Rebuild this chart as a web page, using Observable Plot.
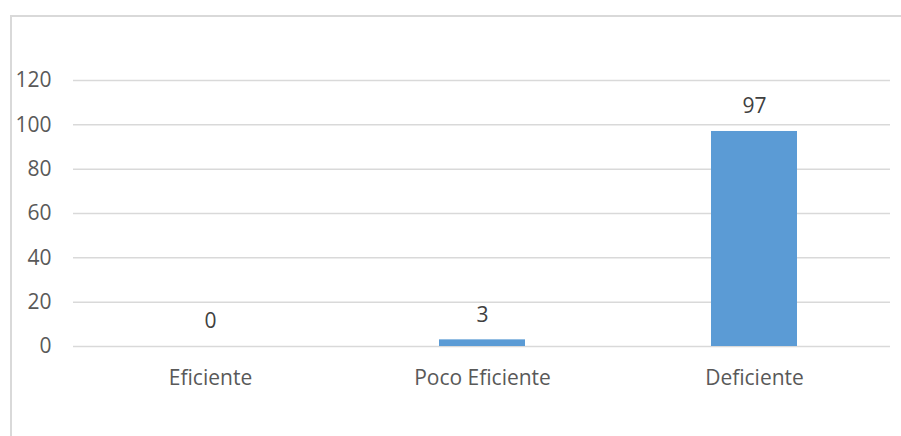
<!DOCTYPE html>
<html>
<head>
<meta charset="utf-8">
<script src="https://cdn.jsdelivr.net/npm/d3@7"></script>
<script src="https://cdn.jsdelivr.net/npm/@observablehq/plot@0.6"></script>
<style>
  html, body { margin: 0; padding: 0; background: #fff; }
  #wrap { position: relative; width: 901px; height: 436px; overflow: hidden; }
  #frame { position: absolute; left: 10px; top: 15px; width: 1000px; height: 1000px; border: 2px solid #D9D9D9; box-sizing: border-box; }
  #chart { position: absolute; left: 0; top: 0; }
</style>
</head>
<body>
<div id="wrap">
  <div id="frame"></div>
  <div id="chart"></div>
</div>
<script>
const categories = ["Eficiente", "Poco Eficiente", "Deficiente"];
const values = [0, 3, 97];
const yTicks = [0, 20, 40, 60, 80, 100, 120];

const data = categories.map((c, i) => ({category: c, value: values[i]}));

const chart = Plot.plot({
  width: 901,
  height: 436,
  marginLeft: 73,
  marginRight: 11,
  marginTop: 80,
  marginBottom: 90,
  style: {fontFamily: "'Open Sans', sans-serif", fontSize: "21px", color: "#595959", background: "transparent"},
  x: {domain: categories, paddingInner: 0.684, paddingOuter: 0.342, label: null, tickSize: 0, tickPadding: 24},
  y: {domain: [0, 120], ticks: yTicks, label: null, tickSize: 0, tickPadding: 22},
  marks: [
    Plot.gridY(yTicks, {stroke: "#D9D9D9", strokeOpacity: 1, strokeWidth: 1.5}),
    Plot.barY(data, {x: "category", y: "value", fill: "#5B9BD5"}),
    Plot.text(data, {x: "category", y: "value", text: d => String(d.value), dy: -25, fill: "#404040", fontSize: 21}),
    Plot.axisX({tickSize: 0, tickPadding: 24, fill: "#595959", fontSize: 21}),
    Plot.axisY(yTicks, {tickSize: 0, tickPadding: 22, fill: "#595959", fontSize: 21})
  ]
});
document.getElementById("chart").appendChild(chart);
</script>
</body>
</html>
